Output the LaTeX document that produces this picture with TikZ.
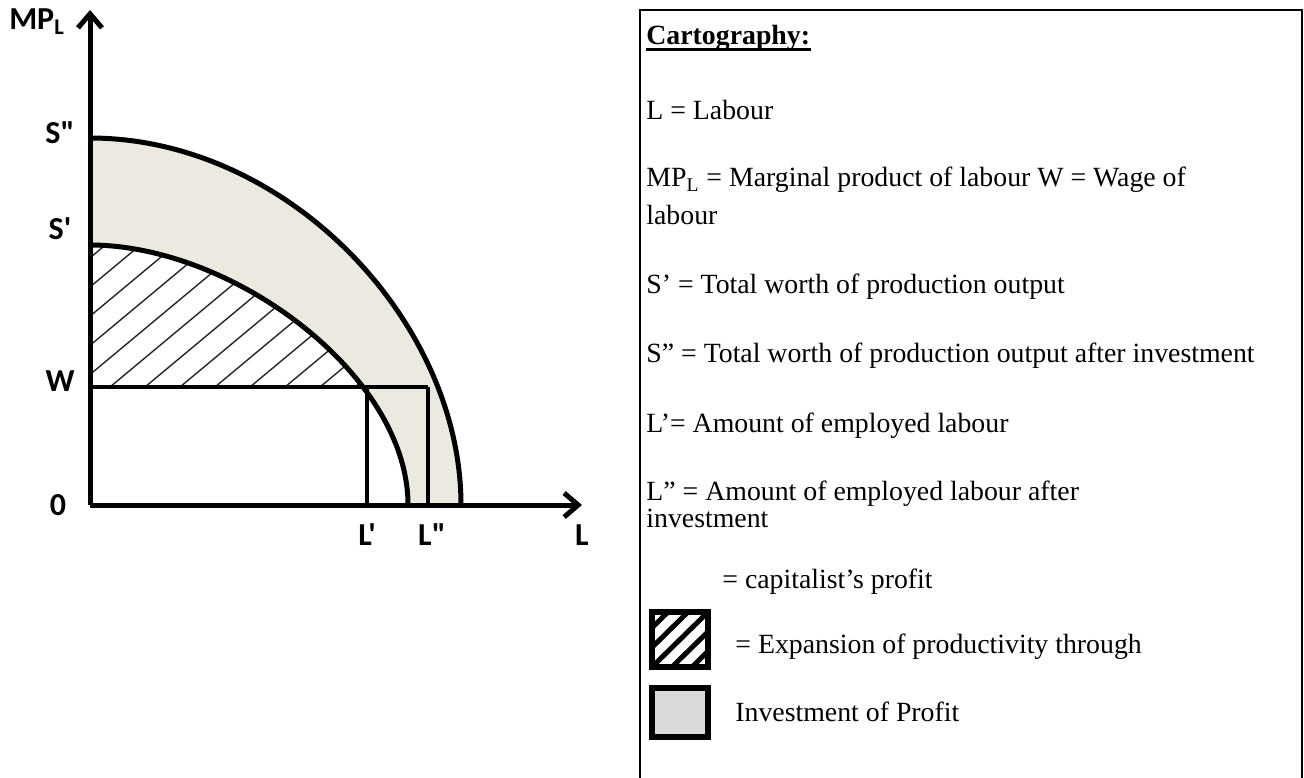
\documentclass[tikz,border=0pt]{standalone}
\usepackage{fontspec}
\setmainfont{Liberation Serif}
\newfontfamily\axisfont{Carlito}
\usetikzlibrary{arrows.meta}
\definecolor{bandgray}{RGB}{236,234,224}
\definecolor{keygray}{RGB}{217,217,217}
\tikzset{
  axis/.style={line width=2.5pt,-{Straight Barb[length=7pt,width=12pt]}},
  curve/.style={line width=2.5pt},
  guide/.style={line width=2pt},
  hatchline/.style={line width=0.7pt,black!85},
  axlabel/.style={font=\axisfont\bfseries\fontsize{16}{18}\selectfont},
  keytext/.style={anchor=west,inner sep=0pt,font=\fontsize{13.9}{16}\selectfont},
  keybox/.style={line width=3pt},
}

\begin{document}
\begin{tikzpicture}[x=0.5pt,y=-0.5pt]
\useasboundingbox (0,0) rectangle (1304,777);

\coordinate (O) at (90,505);
\coordinate (Ytop) at (90,10);
\coordinate (Xend) at (582,505);
\coordinate (S2) at (90,138);
\coordinate (S1) at (90,245);
\coordinate (Wa) at (90,387);
\coordinate (Lp) at (367,387);
\coordinate (Lpp) at (428,387);
\coordinate (Lp0) at (367,505);
\coordinate (Lpp0) at (428,505);
\coordinate (E1) at (408,505);
\coordinate (E2) at (461,505);

  % band between the two curves
  \fill[bandgray] (S2) .. controls (287,138) and (461,321) .. (E2) -- (E1)
     .. controls (408,375) and (233,245) .. (S1) -- cycle;

  % hatched part above W
  \begin{scope}
   \clip (S1) .. controls (233,245) and (408,375) .. (E1) -- (O) -- cycle;
   \clip (90,0) rectangle (600,387);
   \foreach \k in {-9,...,9}
     \draw[hatchline] (110+35*\k,387) -- ++(300,-250);
  \end{scope}

   \draw[curve] (S1) .. controls (233,245) and (408,375) .. (E1);
   \draw[curve] (S2) .. controls (287,138) and (461,321) .. (E2);
   \draw[guide] (Wa) -- (Lpp);
   \draw[guide] (Lp) -- (Lp0);
   \draw[guide] (Lpp) -- (Lpp0);
   \draw[axis] (O) -- (Ytop);
   \draw[axis] (O) -- (Xend);

   \node[axlabel] (mpl) at (37,22) {MP\textsubscript{L}};
   \node[axlabel] (s2) at (60,133) {S"};
   \node[axlabel] (s1) at (60,229) {S'};
   \node[axlabel] (w) at (60,381) {W};
   \node[axlabel] (zero) at (58,505) {0};
   \node[axlabel] (l1) at (367,535) {L'};
   \node[axlabel] (l2) at (432,535) {L"};
   \node[axlabel] (l) at (582,535) {L};

  % key
  \draw[line width=1.2pt] (640,10) rectangle (1302,800);
   \node[keytext] (title) at (646,38) {\textbf{Cartography:}};
   \draw[line width=1.3pt] ([yshift=-2.5pt]title.base west) -- ([yshift=-2.5pt]title.base east);
   \node[keytext] (kl) at (646,110) {L = Labour};
   \node[keytext] (kmp) at (646,180) {MP\textsubscript{L} = Marginal product of labour W = Wage of};
   \node[keytext] (kmpb) at (646,215) {labour};
   \node[keytext] (ks1) at (646,287) {S’ = Total worth of production output};
   \node[keytext] (ks2) at (646,356) {S” = Total worth of production output after investment};
   \node[keytext] (kl1) at (646,426) {L’= Amount of employed labour};
   \node[keytext] (kl2) at (646,494) {L” = Amount of employed labour after};
   \node[keytext] (kl2b) at (646,518) {investment};
   \node[keytext] (kprofit) at (722,582) {= capitalist’s profit};
   \node[keytext] (kexp) at (735,647) {= Expansion of productivity through};
   \node[keytext] (kinv) at (735,712) {Investment of Profit};

  \begin{scope}
   \clip (652,612) rectangle (708,667);
   \foreach \d in {-40,-20,0,20,40}
     \draw[line width=2.5pt] (652+\d,667) -- (708+\d,612);
  \end{scope}
  \draw[keybox] (652,612) rectangle (708,667);
  \draw[keybox,fill=keygray] (652,688) rectangle (708,737);
\end{tikzpicture}
\end{document}
